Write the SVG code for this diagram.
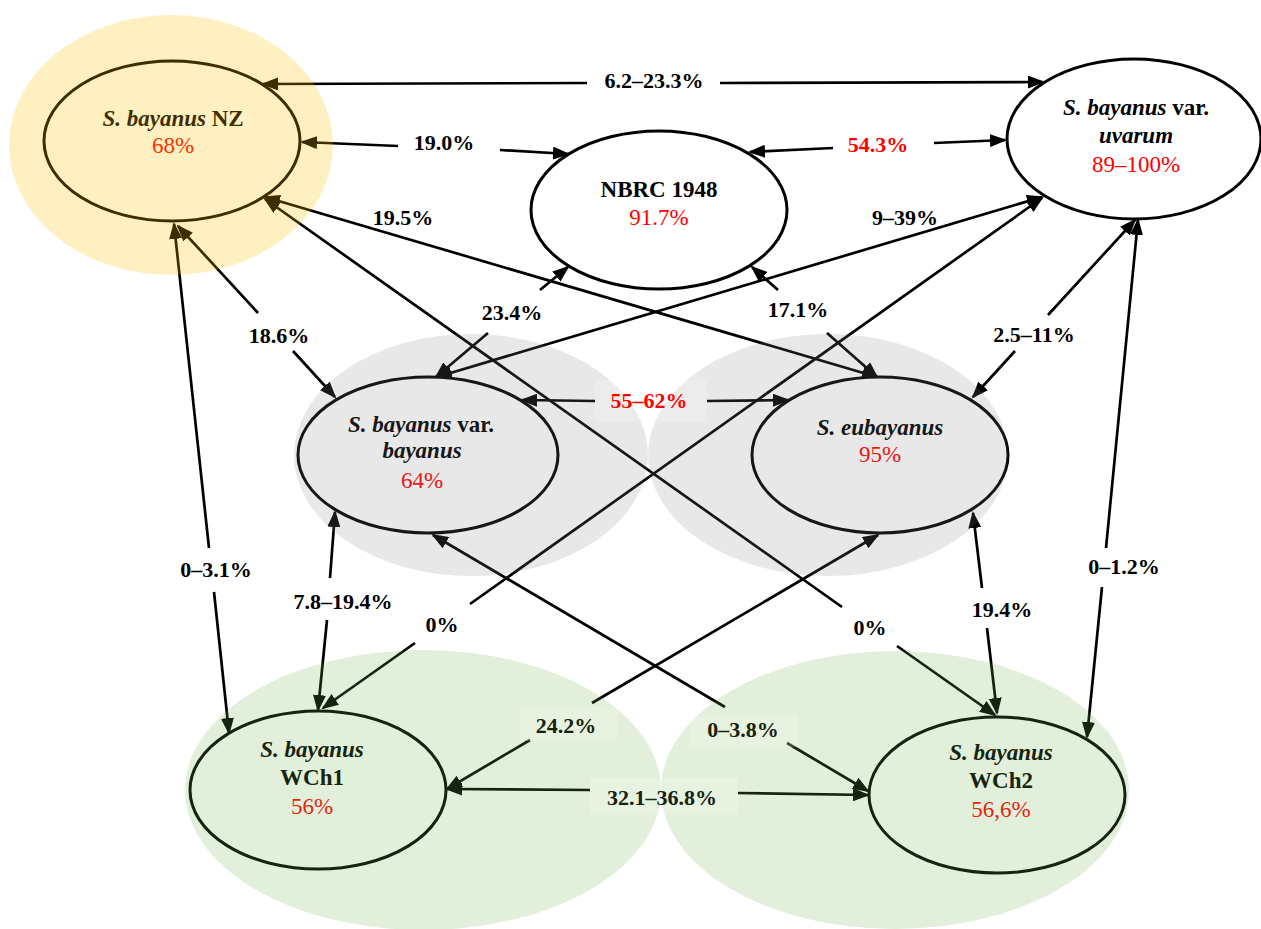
<svg xmlns="http://www.w3.org/2000/svg" width="1261" height="929" viewBox="0 0 1261 929">
<style>
.c{fill:none;stroke:#000;stroke-width:2.7;marker-start:url(#ah);marker-end:url(#ah)}
.node{fill:#fff;stroke:#000;stroke-width:3}
.t{font-family:"Liberation Serif","Times New Roman",serif;font-size:23px;font-weight:bold;text-anchor:middle;fill:#000}
.i{font-style:italic}
.p{font-weight:normal;fill:#ff0000}
.lbl{font-family:"Liberation Serif","Times New Roman",serif;font-size:22px;font-weight:bold;text-anchor:middle;fill:#000}
.red{fill:#ff0000}
.dg{fill:#16230e}
.box{fill:#fff;opacity:0.2}
.gold{fill:#ffc000;opacity:0.24}
.grey{fill:#808080;opacity:0.18}
.green{fill:#70ad47;opacity:0.2}
</style>
<defs>
<marker id="ah" viewBox="0 0 17 13" refX="15" refY="6.5" markerWidth="17" markerHeight="13" markerUnits="userSpaceOnUse" orient="auto-start-reverse">
<path d="M0,0 L17,6.5 L0,13 z" fill="#000"/>
</marker>
</defs>
<rect width="1261" height="929" fill="#fff"/>
<g id="connectors">
<path class="c" d="M263,84 L587,83 M720,83 L1043,82"/>
<path class="c" d="M302,142 L398,146 M500,150 L568,154"/>
<path class="c" d="M750,152 L833,148 M934,143 L1005,140"/>
<path class="c" d="M265,197 L877,377"/>
<path class="c" d="M265,199 L842,607 M897,646 L995,715"/>
<path class="c" d="M178,226 L258,313 M293,351 L335,397"/>
<path class="c" d="M174,224 L209,548 M214,592 L229,733"/>
<path class="c" d="M568,267 L540,290 M488,333 L436,377"/>
<path class="c" d="M752,267 L778,290 M827,333 L877,377"/>
<path class="c" d="M1042,197 L437,377"/>
<path class="c" d="M1042,198 L470,604 M415,643 L323,708"/>
<path class="c" d="M1135,220 L1048,315 M1015,351 L973,397"/>
<path class="c" d="M1138,220 L1106,548 M1102,587 L1087,737"/>
<path class="c" d="M522,400 L595,401 M707,401 L788,400"/>
<path class="c" d="M335,512 L330,578 M327,620 L318,710"/>
<path class="c" d="M433,535 L725,707 M787,743 L868,791"/>
<path class="c" d="M878,535 L592,703 M530,740 L447,789"/>
<path class="c" d="M973,513 L982,588 M987,628 L997,713"/>
<path class="c" d="M447,789 L590,790 M738,793 L868,795"/>
</g>
<g id="node-nz">
<ellipse class="node" cx="172" cy="141" rx="128" ry="80"/>
<text class="t" x="173" y="126"><tspan class="i">S. bayanus</tspan> NZ</text>
<text class="t p" x="173" y="153">68%</text>
<ellipse class="gold" cx="171" cy="145" rx="162" ry="130"/>
</g>
<g id="node-nbrc">
<ellipse class="node" cx="659" cy="210" rx="128" ry="79"/>
<text class="t" x="659" y="197">NBRC 1948</text>
<text class="t p" x="659" y="225">91.7%</text>
</g>
<g id="node-uvarum">
<ellipse class="node" cx="1134" cy="139" rx="127" ry="80"/>
<text class="t" x="1136" y="115"><tspan class="i">S. bayanus</tspan> var.</text>
<text class="t i" x="1136" y="143">uvarum</text>
<text class="t p" x="1136" y="172">89–100%</text>
</g>
<g id="node-bayanus">
<ellipse class="node" cx="428" cy="455" rx="130" ry="78"/>
<text class="t" x="421" y="432"><tspan class="i">S. bayanus</tspan> var.</text>
<text class="t i" x="422" y="458">bayanus</text>
<text class="t p" x="422" y="488">64%</text>
<ellipse class="grey" cx="471" cy="455" rx="177" ry="121"/>
</g>
<g id="node-eubayanus">
<ellipse class="node" cx="880" cy="455" rx="128" ry="78"/>
<text class="t i" x="880" y="435">S. eubayanus</text>
<text class="t p" x="880" y="462">95%</text>
<ellipse class="grey" cx="828" cy="455" rx="180" ry="121"/>
</g>
<g id="node-wch1">
<ellipse class="node" cx="318" cy="790" rx="128" ry="79"/>
<text class="t i" x="312" y="757">S. bayanus</text>
<text class="t" x="312" y="785">WCh1</text>
<text class="t p" x="312" y="814">56%</text>
<ellipse class="green" cx="423" cy="790" rx="238" ry="140"/>
</g>
<g id="node-wch2">
<ellipse class="node" cx="997" cy="795" rx="128" ry="78"/>
<text class="t i" x="1001" y="760">S. bayanus</text>
<text class="t" x="1001" y="788">WCh2</text>
<text class="t p" x="1001" y="817">56,6%</text>
<ellipse class="green" cx="895" cy="790" rx="234" ry="139"/>
</g>
<g id="labels">
<rect class="box" x="595" y="380" width="112" height="42"/>
<rect class="box" x="520" y="707" width="97" height="34"/>
<rect class="box" x="690" y="715" width="108" height="32"/>
<rect class="box" x="590" y="778" width="148" height="37"/>
<text class="lbl" x="654" y="88">6.2–23.3%</text>
<text class="lbl" x="444" y="150">19.0%</text>
<text class="lbl red" x="878" y="152">54.3%</text>
<text class="lbl" x="403" y="225">19.5%</text>
<text class="lbl" x="905" y="225">9–39%</text>
<text class="lbl" x="279" y="343">18.6%</text>
<text class="lbl" x="512" y="320">23.4%</text>
<text class="lbl" x="798" y="317">17.1%</text>
<text class="lbl" x="1034" y="342">2.5–11%</text>
<text class="lbl red" x="649" y="408">55–62%</text>
<text class="lbl" x="216" y="577">0–3.1%</text>
<text class="lbl" x="343" y="609">7.8–19.4%</text>
<text class="lbl" x="442" y="632">0%</text>
<text class="lbl" x="870" y="635">0%</text>
<text class="lbl" x="1002" y="617">19.4%</text>
<text class="lbl" x="1124" y="574">0–1.2%</text>
<text class="lbl dg" x="566" y="733">24.2%</text>
<text class="lbl dg" x="743" y="737">0–3.8%</text>
<text class="lbl dg" x="662" y="805">32.1–36.8%</text>
</g>
</svg>
